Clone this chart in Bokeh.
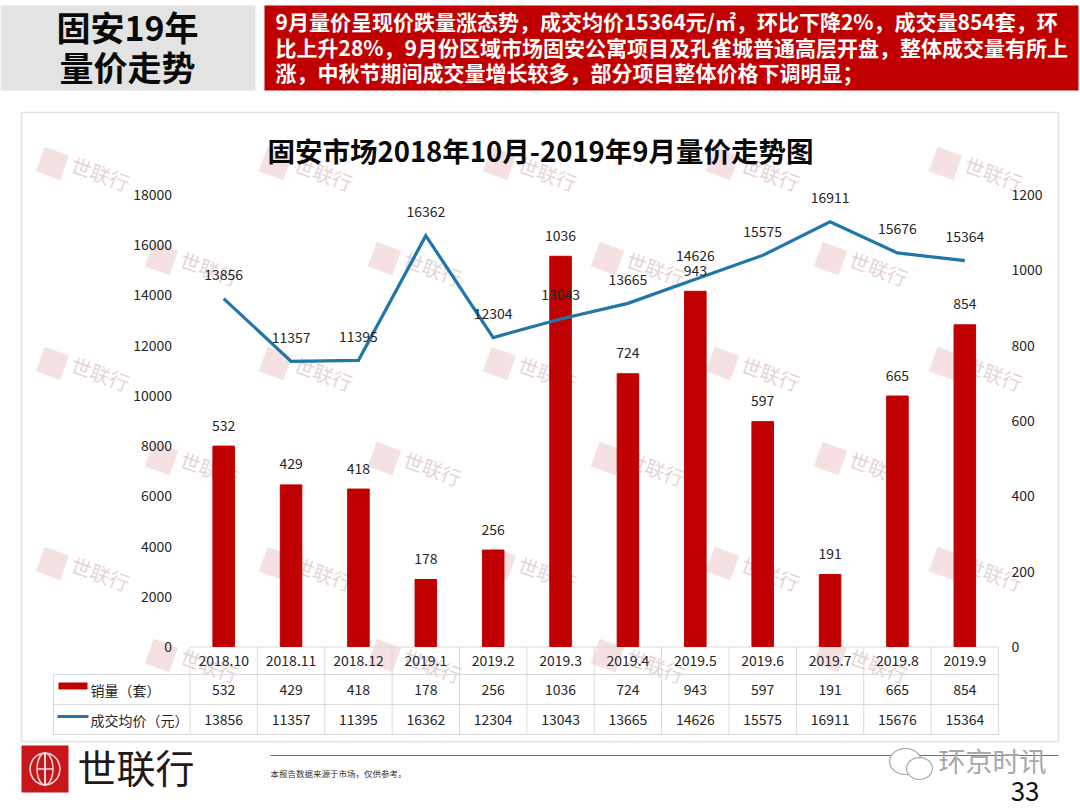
import math
from bokeh.plotting import figure
from bokeh.embed import file_html
from bokeh.resources import INLINE
from bokeh.core.properties import value
from bokeh.models import (Range1d, LinearAxis, FixedTicker, Label,
                          BoxAnnotation, PolyAnnotation)

months = ["2018.10", "2018.11", "2018.12", "2019.1", "2019.2", "2019.3",
          "2019.4", "2019.5", "2019.6", "2019.7", "2019.8", "2019.9"]
sales = [532, 429, 418, 178, 256, 1036, 724, 943, 597, 191, 665, 854]
prices = [13856, 11357, 11395, 16362, 12304, 13043, 13665, 14626, 15575, 16911, 15676, 15364]
left_ticks = [0, 2000, 4000, 6000, 8000, 10000, 12000, 14000, 16000, 18000]
right_ticks = [0, 200, 400, 600, 800, 1000, 1200]
title = "固安市场2018年10月-2019年9月量价走势图"
head_lines = ["固安19年", "量价走势"]
body_lines = ["9月量价呈现价跌量涨态势，成交均价15364元/㎡，环比下降2%，成交量854套，环",
              "比上升28%，9月份区域市场固安公寓项目及孔雀城普通高层开盘，整体成交量有所上",
              "涨，中秋节期间成交量增长较多，部分项目整体价格下调明显；"]
series_names = ["销量（套）", "成交均价（元）"]

FONT = "Noto Sans CJK SC"
W, H = 1080, 810
PL, PR, PT, PB = 189.5, 998, 194, 646   # plot area inside the slide
cw = (PR - PL) / len(months)
k_left = left_ticks[-1] / (PB - PT)
k_right = right_ticks[-1] / (PB - PT)
idx = list(range(len(months)))

p = figure(width=W, height=H,
           x_range=Range1d(-0.5 - PL / cw, -0.5 + (W - PL) / cw),
           y_range=Range1d(-(H - PB) * k_left, PB * k_left),
           output_backend="svg", toolbar_location=None,
           min_border_left=0, min_border_right=0, min_border_top=0, min_border_bottom=0,
           outline_line_color=None, background_fill_color="white", border_fill_color="white")
p.grid.visible = False
p.extra_y_ranges = {"vol": Range1d(-(H - PB) * k_right, PB * k_right)}


def sx(x):
    return x


def sy(y):
    return H - y


def style_axis(a, ticks):
    a.ticker = FixedTicker(ticks=ticks)
    a.axis_line_color = None
    a.major_tick_line_color = None
    a.minor_tick_line_color = None
    a.major_label_text_font = FONT
    a.major_label_text_font_size = "14px"
    a.major_label_text_color = "#262626"


style_axis(p.yaxis[0], left_ticks)
p.yaxis[0].major_label_standoff = 12
p.yaxis[0].fixed_location = -0.5
ra = LinearAxis(y_range_name="vol", fixed_location=len(months) - 0.5)
style_axis(ra, right_ticks)
ra.major_label_standoff = 7
p.add_layout(ra, "right")
xa = p.xaxis[0]
style_axis(xa, idx)
xa.major_label_overrides = {i: m for i, m in enumerate(months)}
xa.fixed_location = 0
xa.major_label_standoff = 2


def box(l, t, r, b, fill, line=None, level="underlay", lw=1):
    p.add_layout(BoxAnnotation(left=sx(l), right=sx(r), top=sy(t), bottom=sy(b),
                               left_units="screen", right_units="screen",
                               top_units="screen", bottom_units="screen",
                               fill_color=fill, fill_alpha=1 if fill else 0,
                               line_color=line, line_alpha=1 if line else 0, line_width=lw, level=level))


def poly(xs, ys, fill=None, alpha=1.0, line=None, lw=1, level="underlay"):
    p.add_layout(PolyAnnotation(xs=[sx(v) for v in xs], ys=[sy(v) for v in ys],
                                xs_units="screen", ys_units="screen",
                                fill_color=fill, fill_alpha=alpha if fill else 0,
                                line_color=line, line_width=lw, line_alpha=1 if line else 0,
                                level=level))


def label(x, y, text, size, color="#262626", align="center", bold=False, angle=0, alpha=1.0, level="annotation"):
    p.add_layout(Label(x=sx(x), y=sy(y), x_units="screen", y_units="screen", text=text,
                       text_font=FONT, text_font_size=f"{size}px", text_color=color,
                       text_align=align, text_baseline="middle", angle=angle, angle_units="deg",
                       text_alpha=alpha, text_font_style="bold" if bold else "normal", level=level))


# panel outline
box(21, 112, 1058, 741, "white", "#e2e2e2", lw=1.5)

# header
box(0, 5, 255, 90, "#e3e3e3")
box(264, 5, 1078, 90, "#c00000")
for y, t in zip((26, 66), head_lines):
    label(127, y, t, 34, "#0a0a0a", bold=True)
for y, t in zip((20, 46, 71), body_lines):
    label(275, y, t, 21, "white", align="left", bold=True)
label(540, 149, title, 27.5, "#0a0a0a", bold=True)

# watermarks
a = math.radians(20)
for y0, xs0 in [(163, (52, 275, 499, 722, 945)), (258, (161, 384, 607, 830)),
                (363, (52, 275, 499, 722, 945)), (458, (161, 384, 607, 830)),
                (563, (52, 275, 499, 722, 945)), (655, (161, 384, 607, 830))]:
    for x0 in xs0:
        s = 13
        cs = [(-s, -s), (s, -s), (s, s), (-s, s)]
        poly([x0 + u * math.cos(a) - v * math.sin(a) for u, v in cs],
             [y0 + u * math.sin(a) + v * math.cos(a) for u, v in cs],
             fill="#d8898c", alpha=0.25)
        label(x0 + 48, y0 + 10, "世联行", 20, "#c9a8aa", angle=-20, alpha=0.5, level="underlay")

# table
T_L, T_X, T_R = 53, PL, PR
R0, R1, R2, R3 = 646.5, 674, 704, 734
LC = "#d9d9d9"
for i in range(len(months) + 1):
    x = T_X + i * cw
    poly([x, x], [R0, R3], line=LC)
poly([T_L, T_L], [R1, R3], line=LC)
poly([T_X, T_R], [R0, R0], line=LC)
for y in (R1, R2, R3):
    poly([T_L, T_R], [y, y], line=LC)
for i in range(len(months)):
    cx = T_X + (i + .5) * cw
    label(cx, 689, str(sales[i]), 14)
    label(cx, 719, str(prices[i]), 14)
box(58, 682, 87, 689, "#c00000")
poly([57, 88], [716, 716], line="#1f77a8", lw=3)
label(90, 689, series_names[0], 14, align="left")
label(90, 719, series_names[1], 14, align="left")

# footer
box(21, 745, 68, 792, "#c8161d")
cx0, cy0 = 44.5, 768.5
for rx in (-15, -8, 8, 15):
    pts = [j / 10 * math.pi - math.pi / 2 for j in range(11)]
    poly([cx0 + rx * math.cos(t) for t in pts],
         [cy0 + 16 * math.sin(t) for t in pts], line="#f8dcdc", lw=1.5)
poly([cx0, cx0], [752, 785], line="#f8dcdc", lw=1.5)
poly([cx0 - 8, cx0 + 8], [cy0, cy0], line="#f8dcdc", lw=1.5)
label(77, 765, "世联行", 39, "#231815", align="left")
poly([270, 1058], [755, 755], line="#8a6468")
label(270, 772, "本报告数据来源于市场，仅供参考。", 8.5, "#333333", align="left")
label(1039, 791, "33", 26, "#111111", align="right")
for cx, cy, rx, ry in ((905, 761, 16, 13), (919, 768, 13, 11)):
    ts = [j / 24 * 2 * math.pi for j in range(24)]
    poly([cx + rx * math.cos(t) for t in ts], [cy + ry * math.sin(t) for t in ts],
         fill="white", line="#aaaaaa", lw=1.2)
label(938, 760, "环京时讯", 27, "#a8a8a8", align="left")

# marks
p.vbar(x=idx, top=sales, width=0.32, color="#c00000", y_range_name="vol")
p.line(x=idx, y=prices, line_color="#1f77a8", line_width=3.2, line_join="miter")
p.text(x=idx, y=sales, text=[str(v) for v in sales], y_range_name="vol", y_offset=-21,
       text_font=value(FONT), text_font_size="14px", text_color="#262626",
       text_align="center", text_baseline="middle")
p.text(x=idx, y=prices, text=[str(v) for v in prices], y_offset=-24,
       text_font=value(FONT), text_font_size="14px", text_color="#262626",
       text_align="center", text_baseline="middle")

open("out.html", "w").write(file_html(p, INLINE))
